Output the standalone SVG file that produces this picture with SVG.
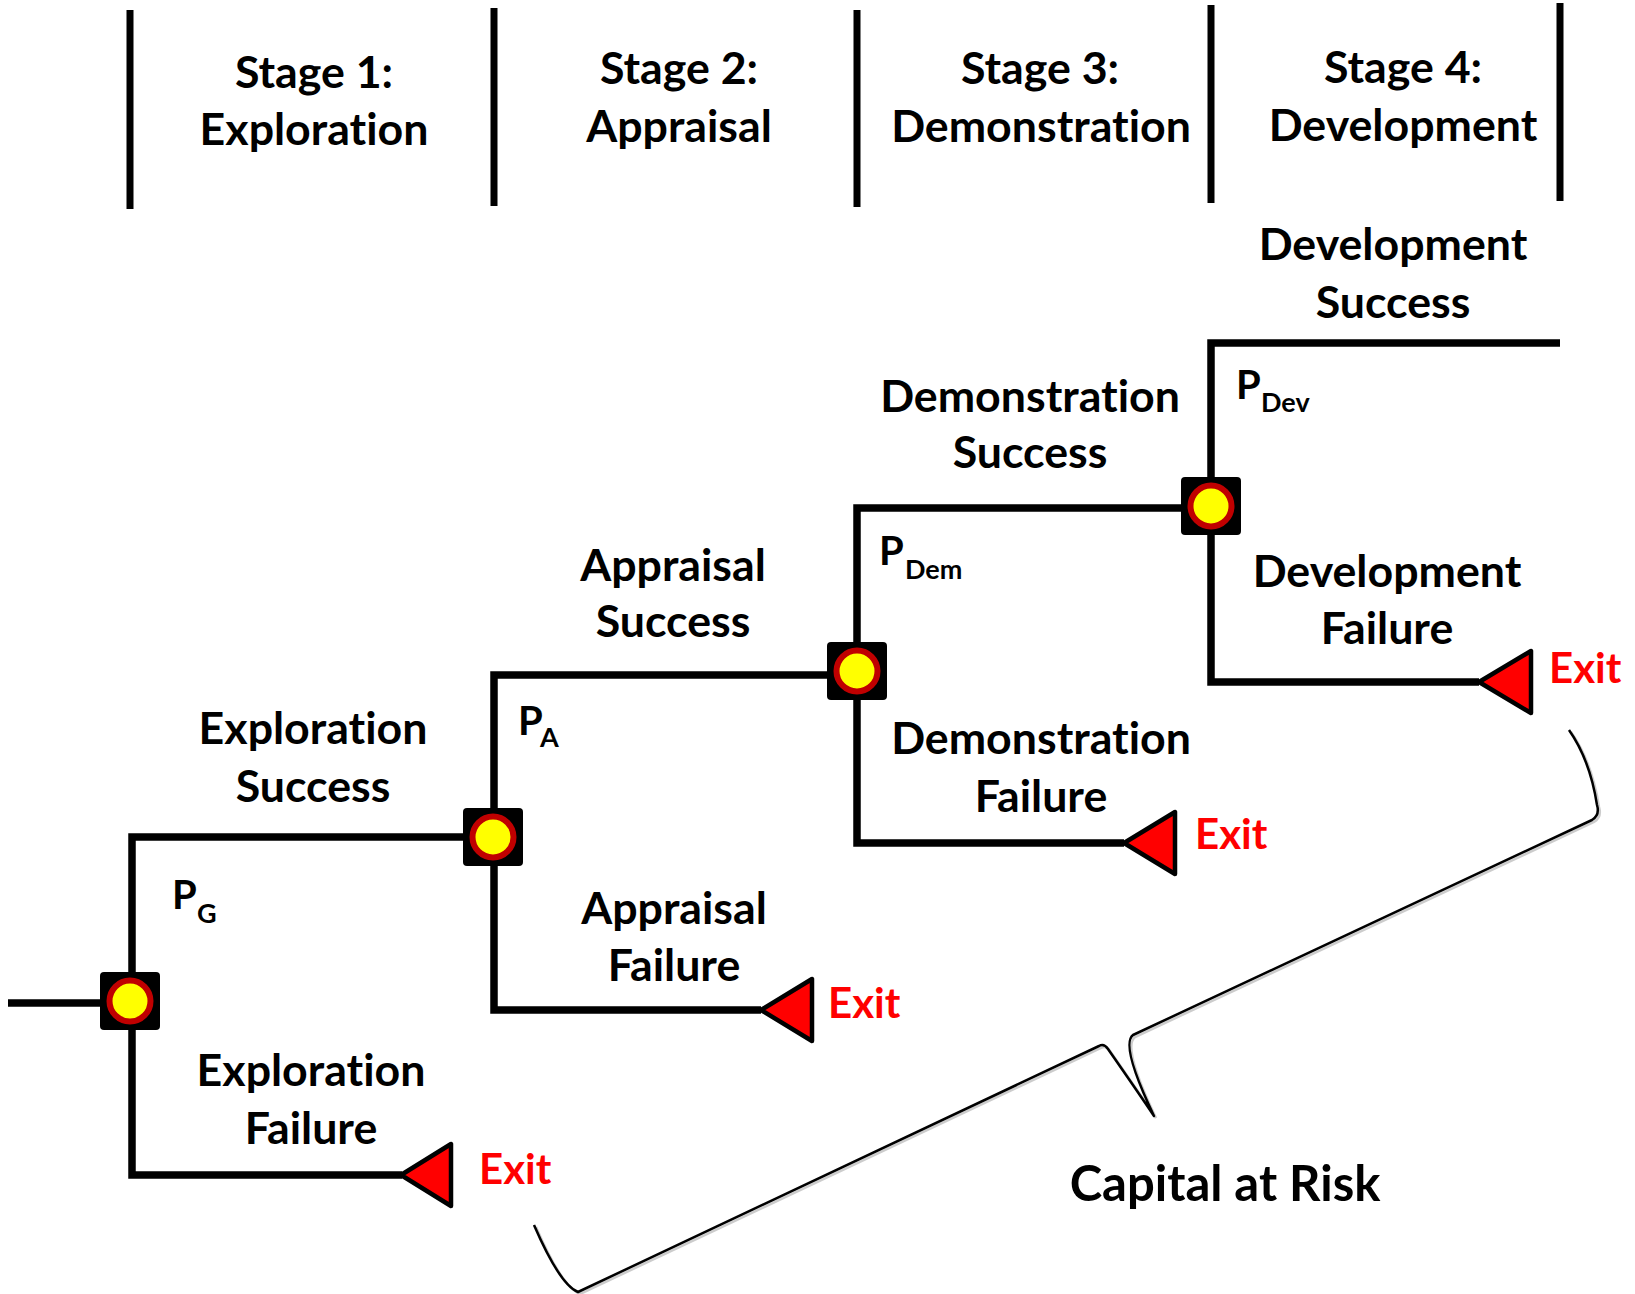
<svg xmlns="http://www.w3.org/2000/svg" width="1635" height="1294" viewBox="0 0 1635 1294">
<style>
text{font-variant-ligatures:none}
.t{font-family:Lato,"Open Sans","Liberation Sans",sans-serif;font-weight:bold;font-size:44.7px;fill:#000;text-anchor:middle}
.p{font-family:Lato,"Open Sans","Liberation Sans",sans-serif;font-weight:bold;font-size:40px;fill:#000}
.s{font-size:27px}
.x{font-family:Lato,"Open Sans","Liberation Sans",sans-serif;font-weight:bold;font-size:42px;fill:#FF0000}
.ln{fill:none;stroke:#000;stroke-width:7.5}
.hd{stroke:#000;stroke-width:7}
.tri{fill:#FF0000;stroke:#000;stroke-width:4.5;stroke-linejoin:round}
.sq{fill:#000}
.ci{fill:#FFFF00;stroke:#C00000;stroke-width:6}
.br{fill:none;stroke:#000;stroke-width:2.5;stroke-linejoin:round}
.brs{fill:none;stroke:#9a9a9a;stroke-width:2.5;opacity:0.5}
</style>
<defs>
<g id="dn"><rect class="sq" x="-30" y="-29" width="60" height="58" rx="4"/><circle class="ci" r="20.5"/></g>
</defs>
<g id="header">
<line class="hd" x1="130" y1="10" x2="130" y2="209"/>
<line class="hd" x1="494" y1="8" x2="494" y2="206"/>
<line class="hd" x1="857" y1="10" x2="857" y2="207"/>
<line class="hd" x1="1211" y1="5" x2="1211" y2="203"/>
<line class="hd" x1="1560" y1="3" x2="1560" y2="201"/>
<text class="t" x="314" y="88">Stage 1:</text>
<text class="t" x="314" y="145">Exploration</text>
<text class="t" x="679" y="84">Stage 2:</text>
<text class="t" x="679" y="142">Appraisal</text>
<text class="t" x="1040" y="84">Stage 3:</text>
<text class="t" x="1041" y="142">Demonstration</text>
<text class="t" x="1403" y="83">Stage 4:</text>
<text class="t" x="1403" y="141">Development</text>
</g>
<g id="connectors">
<path class="ln" d="M8,1003 H100"/>
<path class="ln" d="M493,837 H132 V1175 H402"/>
<path class="ln" d="M857,675 H494 V1010 H761"/>
<path class="ln" d="M1211,508 H857 V843 H1124"/>
<path class="ln" d="M1560,343 H1211 V682 H1479"/>
</g>
<g id="node-exploration"><use href="#dn" x="130" y="1001"/></g>
<g id="node-appraisal"><use href="#dn" x="493" y="837"/></g>
<g id="node-demonstration"><use href="#dn" x="857" y="671"/></g>
<g id="node-development"><use href="#dn" x="1211" y="506"/></g>
<g id="exit-1"><polygon class="tri" points="401,1175 451,1144 451,1206"/><text class="x" x="479" y="1184">Exit</text></g>
<g id="exit-2"><polygon class="tri" points="761,1010 812,979 812,1041"/><text class="x" x="828" y="1018">Exit</text></g>
<g id="exit-3"><polygon class="tri" points="1124,843 1175,812 1175,874"/><text class="x" x="1195" y="849">Exit</text></g>
<g id="exit-4"><polygon class="tri" points="1479,682 1531,651 1531,713"/><text class="x" x="1549" y="683">Exit</text></g>
<g id="labels">
<text class="t" x="1393" y="260">Development</text>
<text class="t" x="1393" y="318">Success</text>
<text class="t" x="1030" y="412">Demonstration</text>
<text class="t" x="1030" y="468">Success</text>
<text class="t" x="673" y="581">Appraisal</text>
<text class="t" x="673" y="637">Success</text>
<text class="t" x="313" y="744">Exploration</text>
<text class="t" x="313" y="802">Success</text>
<text class="t" x="311" y="1086">Exploration</text>
<text class="t" x="311" y="1144">Failure</text>
<text class="t" x="674" y="924">Appraisal</text>
<text class="t" x="674" y="981">Failure</text>
<text class="t" x="1041" y="754">Demonstration</text>
<text class="t" x="1041" y="812">Failure</text>
<text class="t" x="1387" y="587">Development</text>
<text class="t" x="1387" y="644">Failure</text>
<text class="p" x="172" y="909">P<tspan class="s" x="197" y="923">G</tspan></text>
<text class="p" x="518" y="735">P<tspan class="s" x="540" y="747">A</tspan></text>
<text class="p" x="879" y="565">P<tspan class="s" x="905" y="579">Dem</tspan></text>
<text class="p" x="1236" y="399">P<tspan class="s" x="1261" y="412">Dev</tspan></text>
</g>
<g id="brace">
<path class="brs" transform="translate(2,2)" d="M534,1225 Q560,1285 578,1292 L1099,1046 Q1104,1043 1108,1049 Q1140,1095 1154,1116 Q1120,1045 1133,1035 L1592,820 Q1600,815 1597,805 Q1590,760 1569,730"/>
<path class="br" d="M534,1225 Q560,1285 578,1292 L1099,1046 Q1104,1043 1108,1049 Q1140,1095 1154,1116 Q1120,1045 1133,1035 L1592,820 Q1600,815 1597,805 Q1590,760 1569,730"/>
<text class="t" x="1225" y="1201" style="font-size:49px">Capital at Risk</text>
</g>
</svg>
